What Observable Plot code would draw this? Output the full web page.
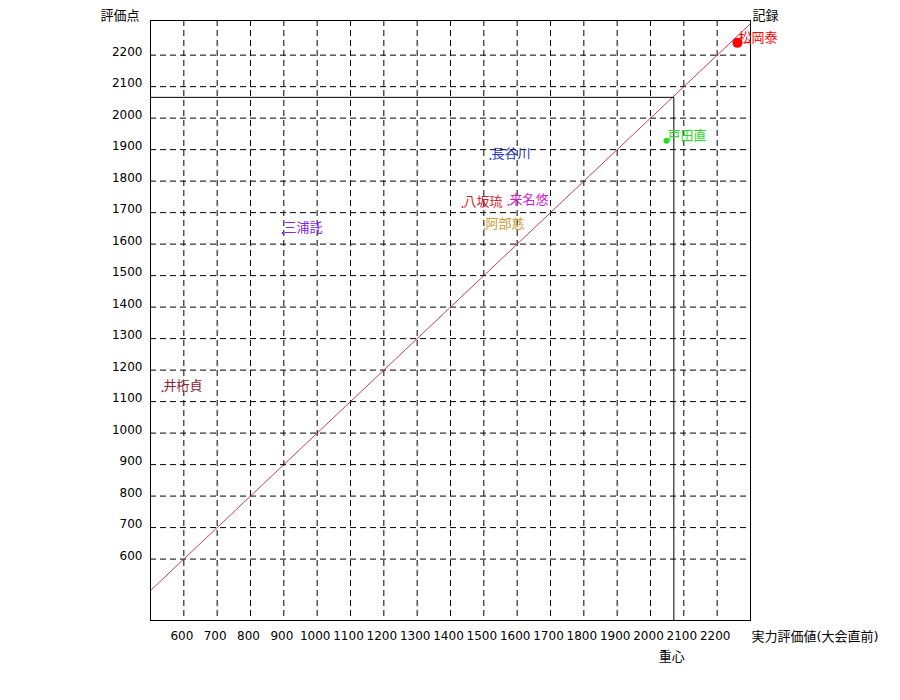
<!DOCTYPE html>
<html>
<head>
<meta charset="utf-8">
<script src="https://cdn.jsdelivr.net/npm/d3@7"></script>
<script src="https://cdn.jsdelivr.net/npm/@observablehq/plot@0.6"></script>
<style>
  body { margin: 0; background: #fff; }
  #chart svg { display: block; }
</style>
</head>
<body>
<div id="chart"></div>
<script>
// ---- data ----
const names   = ["松岡泰", "戸田直", "長谷川", "八坂琉", "来名悠", "阿部慈", "三浦託", "井桁貞"];
const rating  = [2261, 2048, 1520, 1436, 1574, 1502, 896, 536];   // 実力評価値(大会直前)
const score   = [2239, 1928, 1870, 1718, 1724, 1648, 1635, 1133]; // 評価点
const colors  = ["#ff0000", "#22dd22", "#2233cc", "#cc2233", "#cc22cc", "#cc9933", "#8822ee", "#882233"];
const radius  = [5, 3, 1, 1, 1, 1, 1, 1];
const xTicks  = [600, 700, 800, 900, 1000, 1100, 1200, 1300, 1400, 1500, 1600, 1700, 1800, 1900, 2000, 2100, 2200];
const yTicks  = [600, 700, 800, 900, 1000, 1100, 1200, 1300, 1400, 1500, 1600, 1700, 1800, 1900, 2000, 2100, 2200];
const xDomain = [500, 2300];
const yDomain = [405, 2310];
const recordLine = [500, 2300];      // y = x (記録)
const centerX = 2070, centerY = 2066; // 重心

const players = names.map((n, i) => ({name: n, x: rating[i], y: score[i], color: colors[i], r: radius[i]}));
const diag = recordLine.map(v => ({x: v, y: v}));
const center = [
  {x: xDomain[0], y: centerY},
  {x: centerX, y: centerY},
  {x: centerX, y: yDomain[0]}
];

const FONT = "'DejaVu Sans', 'Noto Sans CJK JP', sans-serif";

const chart = Plot.plot({
  width: 900,
  height: 700,
  marginLeft: 150,
  marginRight: 150,
  marginTop: 20,
  marginBottom: 80,
  style: {fontFamily: FONT, fontSize: "12px", color: "#000", background: "#fff"},
  x: {domain: xDomain},
  y: {domain: yDomain},
  r: {type: "identity"},
  marks: [
    Plot.gridX(xTicks, {stroke: "#000", strokeOpacity: 1, strokeDasharray: "6,4"}),
    Plot.gridY(yTicks, {stroke: "#000", strokeOpacity: 1, strokeDasharray: "6,4"}),
    Plot.axisX(xTicks, {tickSize: 0, tickPadding: 11, label: null, tickFormat: d => String(d), dx: -2, fontSize: 12}),
    Plot.axisY(yTicks, {tickSize: 0, tickPadding: 8, label: null, tickFormat: d => String(d), dy: -3, fontSize: 12}),
    Plot.line(diag, {x: "x", y: "y", stroke: "#b01030", strokeWidth: 0.8}),
    Plot.line(center, {x: "x", y: "y", stroke: "#000", strokeWidth: 1}),
    Plot.frame({stroke: "#000", strokeWidth: 1}),
    Plot.dot(players, {x: "x", y: "y", r: "r", fill: "color", stroke: null}),
    Plot.text(players, {x: "x", y: "y", text: "name", fill: "color", textAnchor: "start", dx: 1, dy: -5, fontSize: 13}),
    Plot.text(["評価点"], {frameAnchor: "top-left", lineAnchor: "middle", dx: -50, dy: -5, textAnchor: "start", fontSize: 13, fill: "#000"}),
    Plot.text(["記録"], {frameAnchor: "top-right", lineAnchor: "middle", dx: 2, dy: -5, textAnchor: "start", fontSize: 13, fill: "#000"}),
    Plot.text(["実力評価値(大会直前)"], {frameAnchor: "bottom-right", lineAnchor: "middle", dx: 1, dy: 16, textAnchor: "start", fontSize: 13, fill: "#000"}),
    Plot.text([centerX], {x: d => d, frameAnchor: "bottom", lineAnchor: "middle", dx: -2, dy: 36, text: () => "重心", fontSize: 13, fill: "#000"})
  ]
});
document.getElementById("chart").appendChild(chart);
</script>
</body>
</html>
